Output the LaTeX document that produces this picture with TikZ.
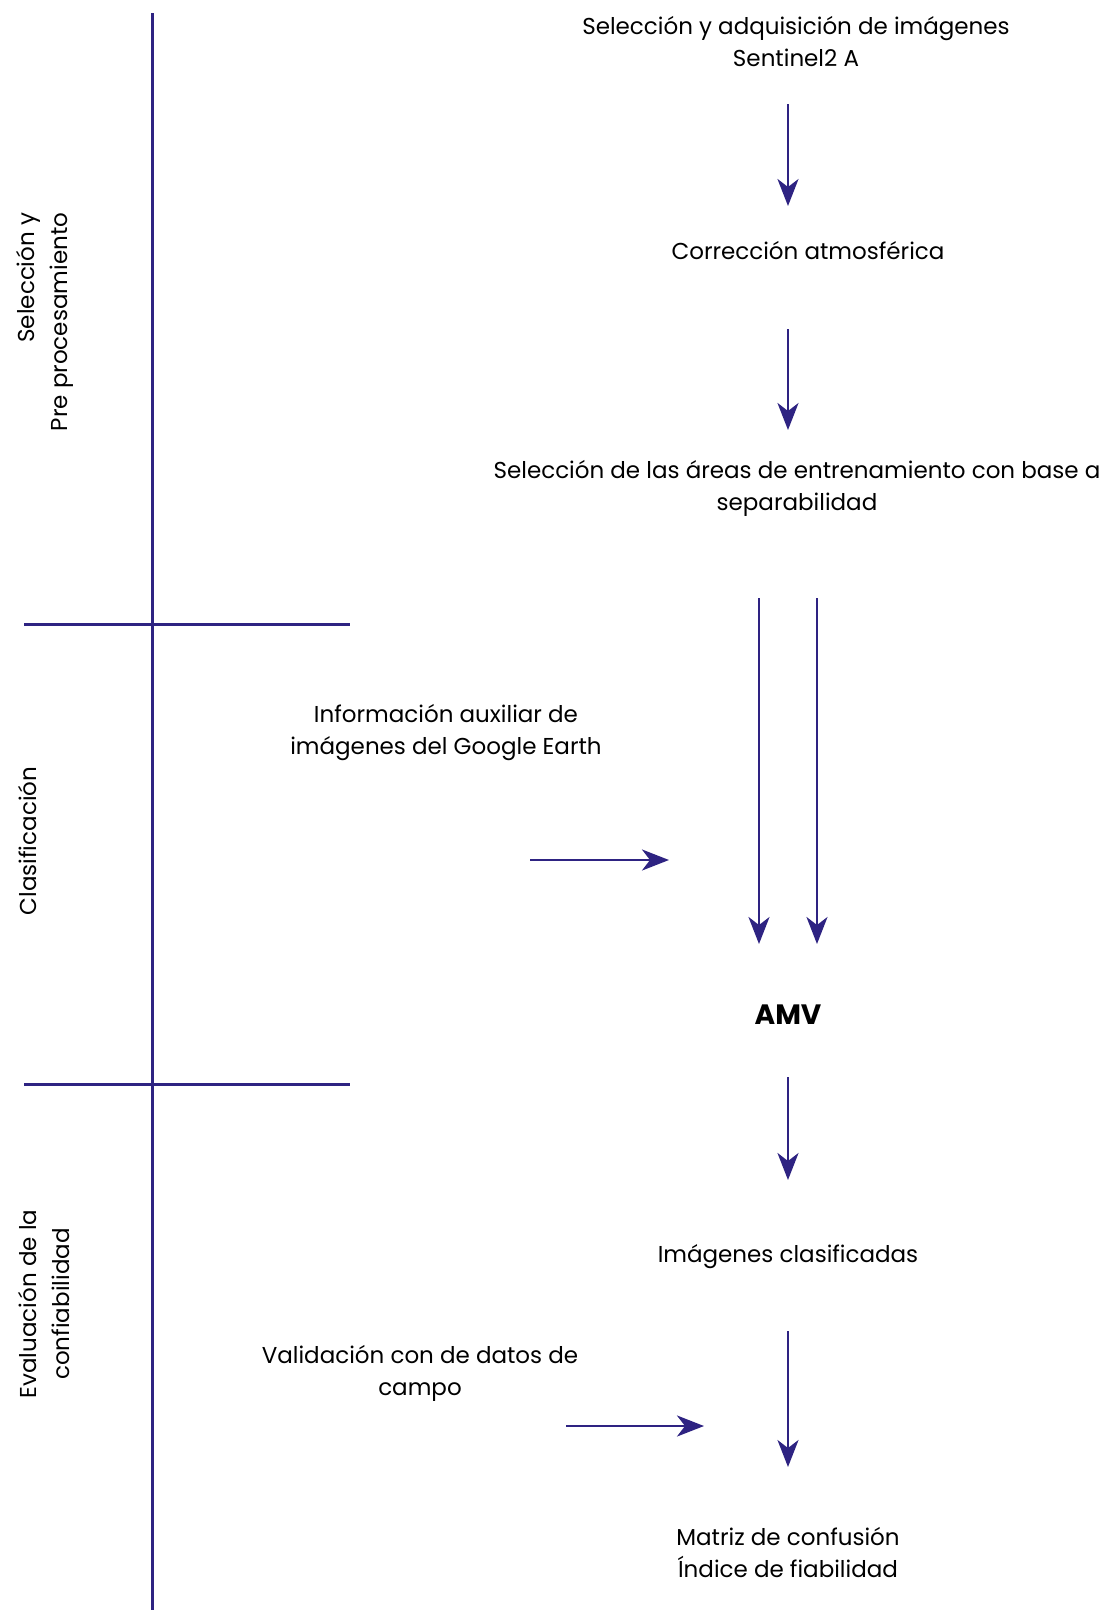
\documentclass[tikz,border=0pt]{standalone}
\usepackage{fontspec}
\setmainfont{Poppins}
\usetikzlibrary{arrows.meta}
\definecolor{ind}{RGB}{46,35,130}
\begin{document}
\begin{tikzpicture}[x=1pt,y=-1pt,
  txt/.style={font=\fontsize{23}{32}\selectfont, align=center, inner sep=0pt, text=black},
  side/.style={font=\fontsize{23}{33}\selectfont, inner sep=0pt, rotate=90, text=black},
  rule/.style={draw=ind, line width=3pt},
  arr/.style={draw=ind, line width=2.6pt, -{Stealth[length=27pt,width=21pt,inset=8pt]}}]
\useasboundingbox[fill=white] (0,0) rectangle (1110,1610);
% structure lines
\coordinate (vtop) at (152,13);
\coordinate (vbot) at (152,1610);
\coordinate (h1l) at (24,624);
\coordinate (h1r) at (350,624);
\coordinate (h2l) at (24,1084);
\coordinate (h2r) at (350,1084);
\draw[rule] (vtop) -- (vbot);
\draw[rule] (h1l) -- (h1r);
\draw[rule] (h2l) -- (h2r);
% side labels
\node[side, align=right] (s1) at (44.5,322) {Selección y\\Pre procesamiento};
\node[side, align=center] (s2) at (28,841) {Clasificación};
\node[side, align=center] (s3) at (44.5,1304) {Evaluación de la\\confiabilidad};
% texts
\node[txt] (t1) at (796,42) {Selección y adquisición de imágenes\\Sentinel2 A};
\node[txt] (t2) at (808,251) {Corrección atmosférica};
\node[txt] (t3) at (797,488) {Selección de las áreas de entrenamiento con base a\\separabilidad};
\node[txt] (t4) at (446,732.5) {Información auxiliar de\\imágenes del Google Earth};
\node[txt, font=\fontsize{28}{30}\selectfont\bfseries] (t5) at (788,1015) {AMV};
\node[txt] (t6) at (788,1257) {Imágenes clasificadas};
\node[txt] (t7) at (420,1373.5) {Validación con de datos de\\campo};
\node[txt] (t8) at (788,1553) {Matriz de confusión\\Índice de fiabilidad};
% arrow coordinates
\coordinate (a1s) at (788,104);  \coordinate (a1e) at (788,206);
\coordinate (a2s) at (788,329);  \coordinate (a2e) at (788,430);
\coordinate (a3s) at (759,598);  \coordinate (a3e) at (759,944);
\coordinate (a4s) at (817,598);  \coordinate (a4e) at (817,944);
\coordinate (a5s) at (530,860);  \coordinate (a5e) at (669,860);
\coordinate (a6s) at (788,1077); \coordinate (a6e) at (788,1180);
\coordinate (a7s) at (788,1331); \coordinate (a7e) at (788,1467);
\coordinate (a8s) at (566,1426); \coordinate (a8e) at (704,1426);
\draw[arr] (a1s) -- (a1e);
\draw[arr] (a2s) -- (a2e);
\draw[arr] (a3s) -- (a3e);
\draw[arr] (a4s) -- (a4e);
\draw[arr] (a5s) -- (a5e);
\draw[arr] (a6s) -- (a6e);
\draw[arr] (a7s) -- (a7e);
\draw[arr] (a8s) -- (a8e);
\end{tikzpicture}
\end{document}
